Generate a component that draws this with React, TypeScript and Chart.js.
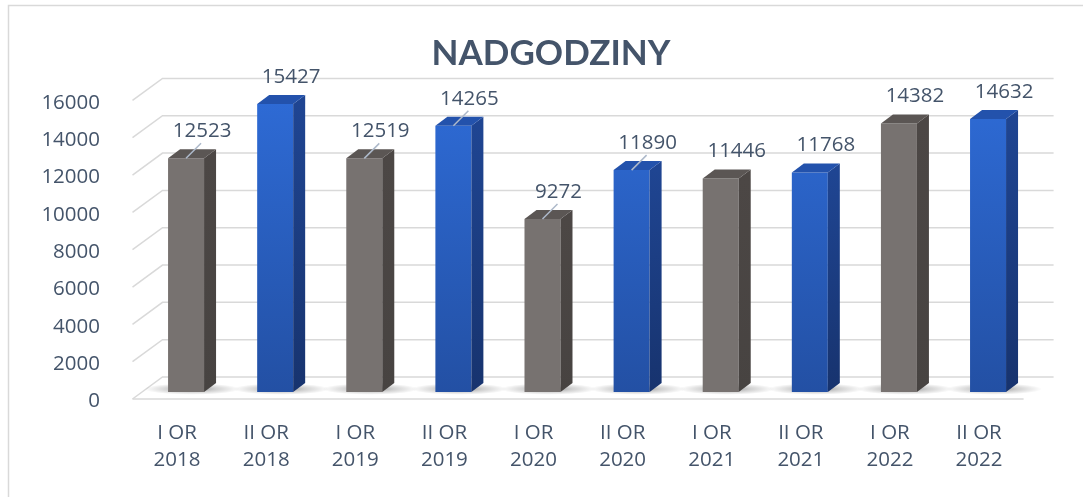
import React, { useEffect, useRef } from "react";
import { Chart, registerables } from "chart.js";

Chart.register(...registerables);

const categories: string[][] = [
  ["I OR", "2018"], ["II OR", "2018"], ["I OR", "2019"], ["II OR", "2019"], ["I OR", "2020"],
  ["II OR", "2020"], ["I OR", "2021"], ["II OR", "2021"], ["I OR", "2022"], ["II OR", "2022"],
];
const overtimeHours: number[] = [12523, 15427, 12519, 14265, 9272, 11890, 11446, 11768, 14382, 14632];
const showLeader: boolean[] = [true, false, true, true, true, true, false, false, false, false];
const yTicks: number[] = [0, 2000, 4000, 6000, 8000, 10000, 12000, 14000, 16000];
const title = "NADGODZINY";

const W = 1083;
const H = 497;
const FONT = "'Open Sans', Lato, sans-serif";
const TITLE_FONT = "Lato, 'Open Sans', sans-serif";
const TEXT = "#44546A";
const GRID = "#D9D9D9";

// 3D geometry (pixels)
const BAR_DX = 12, BAR_DY = -9;      // bar depth
const FRONT_DX = -9, FRONT_DY = 7;   // front plane relative to bar plane
const BACK_DX = 21, BACK_DY = -15;   // back wall relative to bar plane

const isBlue = (i: number) => i % 2 === 1;

const threeD = {
  id: "threeD",
  beforeDraw(chart: any) {
    const { ctx } = chart;
    ctx.save();
    ctx.fillStyle = "#ffffff";
    ctx.fillRect(0, 0, W, H);
    ctx.strokeStyle = GRID;
    ctx.lineWidth = 1.5;
    ctx.strokeRect(8.5, 5.5, W + 50, H + 50);
    ctx.font = `bold 35px ${TITLE_FONT}`;
    ctx.fillStyle = TEXT;
    ctx.textAlign = "center";
    ctx.textBaseline = "middle";
    ctx.fillText(title, 551, 54);
    ctx.restore();
  },
  beforeDatasetsDraw(chart: any) {
    const { ctx, chartArea } = chart;
    const y = chart.scales.y;
    const fl = chartArea.left + FRONT_DX;
    const fr = chartArea.right + FRONT_DX;
    ctx.save();
    ctx.strokeStyle = GRID;
    ctx.lineWidth = 1.5;
    yTicks.forEach((v) => {
      const p = y.getPixelForValue(v);
      const yf = p + FRONT_DY;
      const yb = p + BACK_DY;
      const bl = chartArea.left + BACK_DX;
      const br = chartArea.right + BACK_DX;
      ctx.beginPath();
      ctx.moveTo(fl, yf);
      ctx.lineTo(bl, yb);
      ctx.lineTo(br, yb);
      ctx.stroke();
      if (v === 0) {
        ctx.beginPath();
        ctx.moveTo(fl, yf);
        ctx.lineTo(fr, yf);
        ctx.stroke();
      }
    });
    const meta = chart.getDatasetMeta(0);
    meta.data.forEach((bar: any) => {
      const cx = bar.x + 6;
      const cy = bar.base - 3;
      ctx.save();
      ctx.translate(cx, cy);
      ctx.scale(1, 0.12);
      const g = ctx.createRadialGradient(0, 0, 0, 0, 0, 48);
      g.addColorStop(0, "rgba(0,0,0,0.45)");
      g.addColorStop(0.5, "rgba(0,0,0,0.18)");
      g.addColorStop(1, "rgba(0,0,0,0)");
      ctx.fillStyle = g;
      ctx.beginPath();
      ctx.arc(0, 0, 48, 0, Math.PI * 2);
      ctx.fill();
      ctx.restore();
    });
    ctx.restore();
  },
  afterDatasetsDraw(chart: any) {
    const { ctx } = chart;
    const meta = chart.getDatasetMeta(0);
    ctx.save();
    meta.data.forEach((bar: any, i: number) => {
      const half = bar.width / 2;
      const l = bar.x - half;
      const r = bar.x + half;
      const t = bar.y;
      const b = bar.base;
      const blue = isBlue(i);
      const sg = ctx.createLinearGradient(0, t, 0, b);
      if (blue) {
        sg.addColorStop(0, "#1F4592");
        sg.addColorStop(1, "#17336E");
      } else {
        sg.addColorStop(0, "#4C4745");
        sg.addColorStop(1, "#474341");
      }
      ctx.fillStyle = sg;
      ctx.beginPath();
      ctx.moveTo(r, t);
      ctx.lineTo(r + BAR_DX, t + BAR_DY);
      ctx.lineTo(r + BAR_DX, b + BAR_DY);
      ctx.lineTo(r, b);
      ctx.closePath();
      ctx.fill();
      ctx.fillStyle = blue ? "#2352AC" : "#5B5654";
      ctx.beginPath();
      ctx.moveTo(l, t);
      ctx.lineTo(l + BAR_DX, t + BAR_DY);
      ctx.lineTo(r + BAR_DX, t + BAR_DY);
      ctx.lineTo(r, t);
      ctx.closePath();
      ctx.fill();
    });
    ctx.font = `20.5px ${FONT}`;
    ctx.fillStyle = TEXT;
    ctx.textAlign = "center";
    ctx.textBaseline = "middle";
    meta.data.forEach((bar: any, i: number) => {
      ctx.fillText(String(overtimeHours[i]), bar.x + 16, bar.y - 27);
      if (showLeader[i]) {
        ctx.strokeStyle = "#ADB9CA";
        ctx.lineWidth = 1.5;
        ctx.beginPath();
        ctx.moveTo(bar.x, bar.y);
        ctx.lineTo(bar.x + 15, bar.y - 15);
        ctx.stroke();
      }
    });
    ctx.restore();
  },
};

export default function App() {
  const ref = useRef<HTMLCanvasElement | null>(null);
  useEffect(() => {
    if (!ref.current) return;
    const chart = new Chart(ref.current, {
      type: "bar",
      data: {
        labels: categories,
        datasets: [
          {
            label: title,
            data: overtimeHours,
            backgroundColor: (c: any) => {
              const i = c.dataIndex;
              if (!isBlue(i)) return "#777270";
              const area = c.chart.chartArea;
              if (!area) return "#2A61C4";
              const g = c.chart.ctx.createLinearGradient(0, area.top, 0, area.bottom);
              g.addColorStop(0, "#2E6BD6");
              g.addColorStop(1, "#2350A4");
              return g;
            },
            borderWidth: 0,
            barPercentage: 0.404,
            categoryPercentage: 1,
          },
        ],
      },
      plugins: [threeD],
      options: {
        responsive: false,
        animation: false,
        layout: { padding: { left: 0, right: 50.4, top: 93.4, bottom: 0 } },
        plugins: {
          legend: { display: false },
          tooltip: { enabled: false },
          title: { display: false },
        },
        scales: {
          x: {
            grid: { display: false },
            border: { display: false },
            ticks: {
              color: TEXT,
              font: { family: FONT, size: 20.5, lineHeight: 1.32 },
              padding: 19.5,
              labelOffset: -9,
              maxRotation: 0,
              autoSkip: false,
            },
            afterFit: (s: any) => { s.height = 105; },
          },
          y: {
            min: 0,
            max: 16000,
            grid: { display: false },
            border: { display: false },
            ticks: {
              stepSize: 2000,
              color: TEXT,
              font: { family: FONT, size: 20.5 },
              padding: 33.5,
              labelOffset: 9.5,
              callback: (v: any) => String(v),
            },
            afterFit: (s: any) => { s.width = 141.5; },
          },
        },
      },
    } as any);
    return () => chart.destroy();
  }, []);
  return (
    <div style={{ position: "fixed", left: 0, top: 0, width: W, height: H, background: "#fff" }}>
      <canvas ref={ref} width={W} height={H} style={{ display: "block" }} />
    </div>
  );
}
